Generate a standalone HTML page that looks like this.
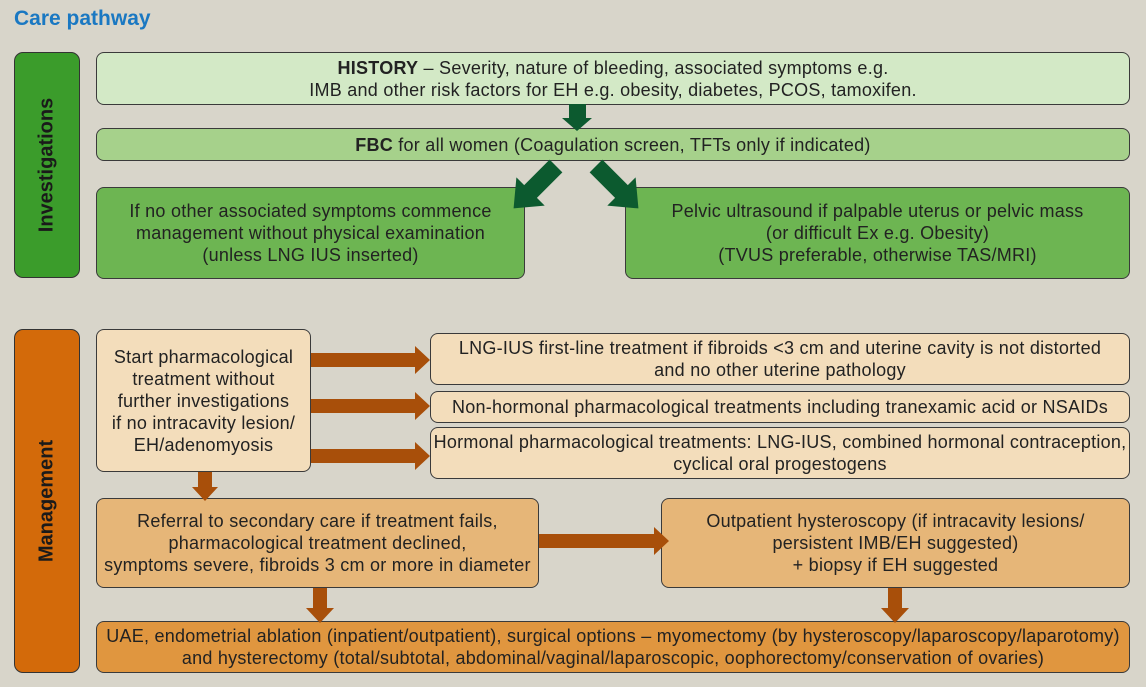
<!DOCTYPE html>
<html><head><meta charset="utf-8"><style>
body{margin:0;width:1146px;height:687px;background:#d8d5ca;position:relative;overflow:hidden;font-family:"Liberation Sans",Arial,sans-serif;color:#222}
.b{position:absolute;box-sizing:border-box;border:1.5px solid #3a3a3a;border-radius:8px;display:flex;align-items:center;justify-content:center;text-align:center;font-size:18px;line-height:22px;letter-spacing:0.25px;white-space:nowrap}
.side{position:absolute;box-sizing:border-box;border:1.5px solid #333;border-radius:9px}
.vt{position:absolute;left:50%;top:50%;transform:translate(-50%,-50%) rotate(-90deg);font-weight:bold;font-size:20px;white-space:nowrap;color:#1a1a1a}
svg{position:absolute;left:0;top:0}
</style></head><body>
<div style="position:absolute;left:14px;top:7px;font-weight:bold;font-size:21px;color:#1a78c2">Care pathway</div>
<div class="side" style="left:14px;top:52px;width:66px;height:226px;background:#3b9c2b"><div class="vt">Investigations</div></div>
<div class="side" style="left:14px;top:329px;width:66px;height:344px;background:#d36a0a"><div class="vt">Management</div></div>

<div class="b" style="left:96px;top:52px;width:1034px;height:53px;background:#d3e9c6"><div><b>HISTORY</b> – Severity, nature of bleeding, associated symptoms e.g.<br>IMB and other risk factors for EH e.g. obesity, diabetes, PCOS, tamoxifen.</div></div>
<div class="b" style="left:96px;top:128px;width:1034px;height:33px;background:#a6d18b"><div><b>FBC</b> for all women (Coagulation screen, TFTs only if indicated)</div></div>
<div class="b" style="left:96px;top:187px;width:429px;height:92px;background:#6db552"><div>If no other associated symptoms commence<br>management without physical examination<br>(unless LNG IUS inserted)</div></div>
<div class="b" style="left:625px;top:187px;width:505px;height:92px;background:#6db552"><div>Pelvic ultrasound if palpable uterus or pelvic mass<br>(or difficult Ex e.g. Obesity)<br>(TVUS preferable, otherwise TAS/MRI)</div></div>

<div class="b" style="left:96px;top:329px;width:215px;height:143px;background:#f3ddbb"><div>Start pharmacological<br>treatment without<br>further investigations<br>if no intracavity lesion/<br>EH/adenomyosis</div></div>
<div class="b" style="left:430px;top:333px;width:700px;height:52px;background:#f3ddbb"><div>LNG-IUS first-line treatment if fibroids &lt;3 cm and uterine cavity is not distorted<br>and no other uterine pathology</div></div>
<div class="b" style="left:430px;top:391px;width:700px;height:32px;background:#f3ddbb"><div>Non-hormonal pharmacological treatments including tranexamic acid or NSAIDs</div></div>
<div class="b" style="left:430px;top:427px;width:700px;height:52px;background:#f3ddbb"><div>Hormonal pharmacological treatments: LNG-IUS, combined hormonal contraception,<br>cyclical oral progestogens</div></div>
<div class="b" style="left:96px;top:498px;width:443px;height:90px;background:#e6b678"><div>Referral to secondary care if treatment fails,<br>pharmacological treatment declined,<br>symptoms severe, fibroids 3 cm or more in diameter</div></div>
<div class="b" style="left:661px;top:498px;width:469px;height:90px;background:#e6b678"><div>Outpatient hysteroscopy (if intracavity lesions/<br>persistent IMB/EH suggested)<br>+ biopsy if EH suggested</div></div>
<div class="b" style="left:96px;top:621px;width:1034px;height:52px;background:#e0963f"><div>UAE, endometrial ablation (inpatient/outpatient), surgical options – myomectomy (by hysteroscopy/laparoscopy/laparotomy)<br>and hysterectomy (total/subtotal, abdominal/vaginal/laparoscopic, oophorectomy/conservation of ovaries)</div></div>

<svg width="1146" height="687">
<g fill="#0c5a2f">
<polygon points="569,104 586,104 586,118 592,118 577,131 562,118 569,118"/>
<polygon points="0,-9 36,-9 36,-20 60,0 36,20 36,9 0,9" transform="translate(556,166) rotate(135)"/>
<polygon points="0,-9 36,-9 36,-20 60,0 36,20 36,9 0,9" transform="translate(596,166) rotate(45)"/>
</g>
<g fill="#a84f0a">
<polygon points="311,353 415,353 415,346 430,360 415,374 415,367 311,367"/>
<polygon points="311,399 415,399 415,392 430,406 415,420 415,413 311,413"/>
<polygon points="311,449 415,449 415,442 430,456 415,470 415,463 311,463"/>
<polygon points="198,472 212,472 212,487 218,487 205,501 192,487 198,487"/>
<polygon points="539,534 654,534 654,527 669,541 654,555 654,548 539,548"/>
<polygon points="313,588 327,588 327,608 334,608 320,623 306,608 313,608"/>
<polygon points="888,588 902,588 902,608 909,608 895,623 881,608 888,608"/>
</g>
</svg>
</body></html>
